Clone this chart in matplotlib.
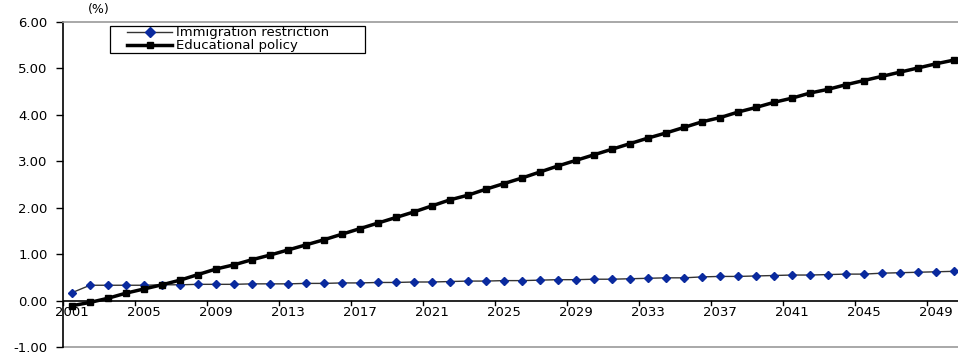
import matplotlib
matplotlib.use("Agg")
import matplotlib.pyplot as plt
from matplotlib.patches import Rectangle
import numpy as np

plt.rcParams['font.family'] = ['DejaVu Sans']

years = list(range(2001, 2051))

immigration = [0.17, 0.33, 0.33, 0.33, 0.33, 0.34, 0.34, 0.35, 0.35, 0.35,
               0.36, 0.36, 0.36, 0.37, 0.37, 0.38, 0.38, 0.39, 0.39, 0.40,
               0.40, 0.41, 0.42, 0.42, 0.43, 0.43, 0.44, 0.45, 0.45, 0.46,
               0.46, 0.47, 0.48, 0.49, 0.49, 0.51, 0.52, 0.52, 0.53, 0.54,
               0.55, 0.55, 0.56, 0.57, 0.57, 0.59, 0.60, 0.61, 0.62, 0.63]

education = [-0.11, -0.04, 0.05, 0.16, 0.25, 0.34, 0.44, 0.56, 0.68, 0.77,
             0.88, 0.98, 1.09, 1.20, 1.31, 1.43, 1.55, 1.67, 1.79, 1.91,
             2.04, 2.17, 2.27, 2.40, 2.52, 2.64, 2.77, 2.90, 3.02, 3.14,
             3.26, 3.38, 3.50, 3.61, 3.73, 3.85, 3.94, 4.06, 4.16, 4.27,
             4.36, 4.47, 4.55, 4.65, 4.74, 4.83, 4.92, 5.01, 5.10, 5.18]

series_labels = ["Immigration restriction", "Educational policy"]
y_ticks = [-1, 0, 1, 2, 3, 4, 5, 6]

W, H = 958, 360
AX_L, AX_T, AX_B = 63, 22, 347
aw, ah = W - AX_L, AX_B - AX_T
fig = plt.figure(figsize=(W / 100, H / 100), dpi=100)
ax = fig.add_axes([AX_L / W, (H - AX_B) / H, aw / W, ah / H])

def axfrac(px, py):
    return (px - AX_L) / aw, (AX_B - py) / ah

x = np.arange(len(years))
ax.plot(x, immigration, color='#333333', lw=1.0, marker='D', markersize=3.8,
        markerfacecolor='#0a2a9e', markeredgecolor='#0a2a9e',
        label=series_labels[0], zorder=3)
ax.plot(x, education, color='black', lw=2.5, marker='s', markersize=5,
        markerfacecolor='black', markeredgecolor='black',
        label=series_labels[1], zorder=4)

ax.set_ylim(-1, 6)
ax.set_xlim(-0.5, -0.5 + aw / 18.0)

ax.set_yticks(y_ticks)
ax.set_yticklabels([f"{v:.2f}" for v in y_ticks], fontsize=9.5)
ax.tick_params(axis='y', direction='out', length=5, width=1, color='black', pad=6)

# x axis at y=0: ticks at category boundaries, labels at category centres
ax.spines['bottom'].set_visible(False)
ax.spines['right'].set_visible(False)
ax.spines['top'].set_color('#999999')
ax.spines['top'].set_linewidth(1.2)
ax.spines['left'].set_color('black')
ax.spines['left'].set_linewidth(1.2)
ax.axhline(0, color='black', lw=1.2, zorder=2)
ax.axhline(-1, color='#999999', lw=1.2, zorder=1, clip_on=False)

ax.set_xticks([])
for i in range(0, len(years), 4):
    ax.plot([i - 0.5, i - 0.5], [0, -0.09], color='black', lw=1, clip_on=False)
    ax.text(i, -0.25, str(years[i]), ha='center', va='center', fontsize=9.5)

fig.text(88 / W, 1 - 10 / H, "(%)", fontsize=9, ha='left', va='center')

# legend frame
x0, y0 = axfrac(110, 53)
x1, y1 = axfrac(365, 26)
ax.add_patch(Rectangle((x0, y0), x1 - x0, y1 - y0, transform=ax.transAxes,
                       facecolor='white', edgecolor='black', lw=0.9, zorder=5))
lx, ly = axfrac(126, 25)
leg = ax.legend(loc='upper left', bbox_to_anchor=(lx, ly),
                frameon=False, fontsize=9.5, handlelength=3.4,
                borderpad=0.1, labelspacing=0.0, handletextpad=0.3,
                borderaxespad=0)
leg.set_zorder(6)
for h in leg.legend_handles:
    h.set_markersize(5)

fig.savefig("out.png", dpi=100)
